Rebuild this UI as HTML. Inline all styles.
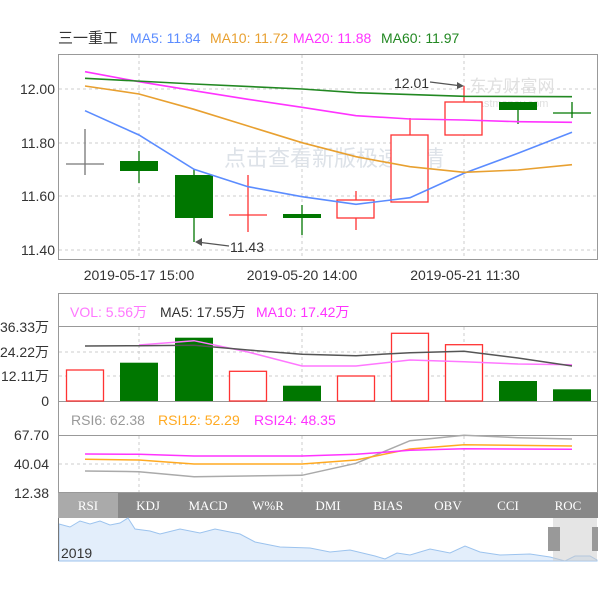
<!DOCTYPE html>
<html><head><meta charset="utf-8"><style>
body{margin:0;background:#fff;width:600px;height:600px;overflow:hidden}
svg{display:block;font-family:"Liberation Sans","Noto Sans CJK SC",sans-serif}
</style></head><body>
<svg width="600" height="600" viewBox="0 0 600 600">
<rect width="600" height="600" fill="#fff"/>
<!-- title -->
<g font-size="14">
<text x="58" y="43" fill="#333" font-size="15">三一重工</text>
<text x="130" y="43" fill="#5b8cff">MA5: 11.84</text>
<text x="210" y="43" fill="#e8a030">MA10: 11.72</text>
<text x="293" y="43" fill="#ff33ff">MA20: 11.88</text>
<text x="381" y="43" fill="#228822">MA60: 11.97</text>
</g>
<!-- main panel -->
<rect x="58.5" y="54.5" width="539" height="205" fill="#fff" stroke="#999"/>
<g stroke="#ccc" stroke-dasharray="3,3">
<line x1="59" y1="89" x2="597" y2="89"/><line x1="59" y1="143" x2="597" y2="143"/>
<line x1="59" y1="196" x2="597" y2="196"/><line x1="59" y1="250" x2="597" y2="250"/>
<line x1="139" y1="55" x2="139" y2="259"/><line x1="302" y1="55" x2="302" y2="259"/><line x1="464" y1="55" x2="464" y2="259"/>
</g>
<g font-size="14" fill="#333" text-anchor="end">
<text x="55" y="94">12.00</text><text x="55" y="148">11.80</text><text x="55" y="201">11.60</text><text x="55" y="255">11.40</text>
</g>
<text x="334" y="166" font-size="22" fill="#dde2e8" text-anchor="middle">点击查看新版极速行情</text>
<text x="512" y="92" font-size="17" fill="#e0e0e0" text-anchor="middle">东方财富网</text>
<text x="510" y="107" font-size="11" fill="#e0e0e0" text-anchor="middle">eastmoney.com</text>
<!-- candles -->
<g stroke-width="1.3">
<line x1="85" y1="129" x2="85" y2="175" stroke="#777"/><line x1="66" y1="164" x2="104" y2="164" stroke="#777"/>
<line x1="139" y1="151" x2="139" y2="183" stroke="#007700"/><rect x="120" y="161" width="38" height="10" fill="#007700"/>
<line x1="194" y1="169" x2="194" y2="242" stroke="#007700"/><rect x="175" y="175" width="38" height="43" fill="#007700"/>
<line x1="248" y1="175" x2="248" y2="232" stroke="#f33"/><line x1="229" y1="215" x2="267" y2="215" stroke="#f33"/>
<line x1="302" y1="205" x2="302" y2="235" stroke="#007700"/><rect x="283" y="214" width="38" height="4" fill="#007700"/>
<line x1="356" y1="191" x2="356" y2="230" stroke="#f33"/><rect x="337" y="200" width="37" height="18" fill="#fff" stroke="#f33"/>
<line x1="410" y1="118" x2="410" y2="135" stroke="#f33"/><rect x="391" y="135" width="37" height="67" fill="#fff" stroke="#f33"/>
<line x1="464" y1="86" x2="464" y2="102" stroke="#f33"/><rect x="445" y="102" width="37" height="33" fill="#fff" stroke="#f33"/>
<line x1="518" y1="102" x2="518" y2="124" stroke="#007700"/><rect x="499" y="102" width="38" height="8" fill="#007700"/>
<line x1="572" y1="102" x2="572" y2="118" stroke="#007700"/><line x1="553" y1="113" x2="591" y2="113" stroke="#007700"/>
</g>
<!-- MAs -->
<g fill="none" stroke-width="1.6">
<polyline stroke="#5b8cff" points="85,110.7 139,135 194,169.3 248,186.7 302,196.7 356,204.3 410,197.7 464,173.3 518,153.3 572,132.3"/>
<polyline stroke="#e8a030" points="85,86 139,94 194,109.3 248,126 302,142.7 356,156.7 410,166.7 464,172.3 518,170 572,164.7"/>
<polyline stroke="#ff33ff" points="85,71.7 139,81.7 194,90.7 248,99.3 302,107.3 356,115.7 410,119 464,120 518,121.7 572,122.3"/>
<polyline stroke="#228822" points="85,78.3 194,84 302,89 356,92.7 464,96.3 572,96.7"/>
</g>
<g font-size="14" fill="#333">
<text x="394" y="88">12.01</text><line x1="430" y1="82" x2="462" y2="86" stroke="#555" stroke-width="1.2"/><polygon points="464,86 457,82 457,89" fill="#555"/>
<text x="230" y="252">11.43</text><line x1="229" y1="246" x2="197" y2="242" stroke="#555" stroke-width="1.2"/><polygon points="195,242 202,238 202,246" fill="#555"/>
</g>
<g font-size="14" fill="#333" text-anchor="middle">
<text x="139" y="280">2019-05-17 15:00</text><text x="302" y="280">2019-05-20 14:00</text><text x="465" y="280">2019-05-21 11:30</text>
</g>
<!-- volume panel -->
<rect x="58.5" y="293.5" width="539" height="199" fill="#fff" stroke="#999"/>
<line x1="59" y1="326.5" x2="597" y2="326.5" stroke="#999"/>
<line x1="59" y1="401.5" x2="597" y2="401.5" stroke="#999"/>
<line x1="59" y1="435.5" x2="597" y2="435.5" stroke="#999"/>
<g stroke="#ccc" stroke-dasharray="3,3">
<line x1="59" y1="352" x2="597" y2="352"/><line x1="59" y1="376" x2="597" y2="376"/><line x1="59" y1="464" x2="597" y2="464"/>
<line x1="139" y1="327" x2="139" y2="401"/><line x1="302" y1="327" x2="302" y2="401"/><line x1="464" y1="327" x2="464" y2="401"/>
<line x1="139" y1="436" x2="139" y2="492"/><line x1="302" y1="436" x2="302" y2="492"/><line x1="464" y1="436" x2="464" y2="492"/>
</g>
<g font-size="14">
<text x="70" y="317" fill="#ff77ff">VOL: 5.56万</text>
<text x="160" y="317" fill="#333">MA5: 17.55万</text>
<text x="256" y="317" fill="#ff33ff">MA10: 17.42万</text>
<text x="71" y="425" fill="#999">RSI6: 62.38</text>
<text x="158" y="425" fill="#ffaa22">RSI12: 52.29</text>
<text x="254" y="425" fill="#ff33ff">RSI24: 48.35</text>
</g>
<g font-size="14" fill="#333" text-anchor="end">
<text x="49" y="332">36.33万</text><text x="49" y="357">24.22万</text><text x="49" y="381">12.11万</text><text x="49" y="406">0</text>
<text x="49" y="440">67.70</text><text x="49" y="469">40.04</text><text x="49" y="498">12.38</text>
</g>
<g stroke-width="1.3">
<rect x="66.5" y="370" width="37" height="31" fill="#fff" stroke="#f33"/>
<rect x="120" y="362.7" width="38" height="38.3" fill="#007700"/>
<rect x="175" y="337.7" width="38" height="63.3" fill="#007700"/>
<rect x="229.5" y="371.3" width="37" height="29.7" fill="#fff" stroke="#f33"/>
<rect x="283" y="385.7" width="38" height="15.3" fill="#007700"/>
<rect x="337.5" y="376" width="37" height="25" fill="#fff" stroke="#f33"/>
<rect x="391.5" y="333.3" width="37" height="67.7" fill="#fff" stroke="#f33"/>
<rect x="445.5" y="344.7" width="37" height="56.3" fill="#fff" stroke="#f33"/>
<rect x="499" y="381" width="38" height="20" fill="#007700"/>
<rect x="553" y="389.3" width="38" height="11.7" fill="#007700"/>
</g>
<g fill="none" stroke-width="1.5">
<polyline stroke="#ff77ff" points="139,345 194,340.7 248,352 302,366 356,366 410,360 464,361.7 518,364 572,364.7"/>
<polyline stroke="#555" points="85,346 139,345.7 194,345.3 248,350 302,354.3 356,355.7 410,352.7 464,351.3 518,358 572,366"/>
<polyline stroke="#aaa" points="85,471 139,471.7 194,476.7 302,475.3 356,463.3 410,440.7 464,435.3 518,437.7 572,439"/>
<polyline stroke="#ffaa22" points="85,459.3 139,460 194,464 302,464 356,460 410,449 464,444.7 572,446"/>
<polyline stroke="#ff33ff" points="85,454 139,454.3 194,456 302,456 356,454.3 410,450.3 464,448.7 572,449.3"/>
</g>
<!-- tabs -->
<rect x="58" y="493" width="540" height="25" fill="#888"/>
<rect x="58" y="493" width="60" height="25" fill="#aaa"/>
<g font-family="Liberation Serif,serif" font-size="13" fill="#fff" text-anchor="middle">
<text x="88" y="510">RSI</text><text x="148" y="510">KDJ</text><text x="208" y="510">MACD</text><text x="268" y="510">W%R</text><text x="328" y="510">DMI</text><text x="388" y="510">BIAS</text><text x="448" y="510">OBV</text><text x="508" y="510">CCI</text><text x="568" y="510">ROC</text>
</g>
<!-- navigator -->
<polygon fill="#e3eefb" stroke="#9cc3ee" stroke-width="1" points="59,524 70,527 80,521 90,524 100,521 110,525 120,523 128,518 135,529 150,531 160,534 180,529 200,533 215,529 240,534 255,542 280,547 310,548 330,552 350,550 375,556 385,559 397,553 410,555 430,549 450,553 465,546 480,552 500,555 530,554 550,557 565,561 575,556 590,556 597,560 597,561 59,561"/>
<rect x="553" y="518" width="44" height="43" fill="#ccc" opacity="0.5"/>
<rect x="548" y="527" width="12" height="24" fill="#999"/><rect x="592" y="527" width="6" height="24" fill="#999"/>
<line x1="58.5" y1="518" x2="58.5" y2="561" stroke="#777"/>
<text x="61" y="558" font-size="14" fill="#333">2019</text>
</svg>
</body></html>
